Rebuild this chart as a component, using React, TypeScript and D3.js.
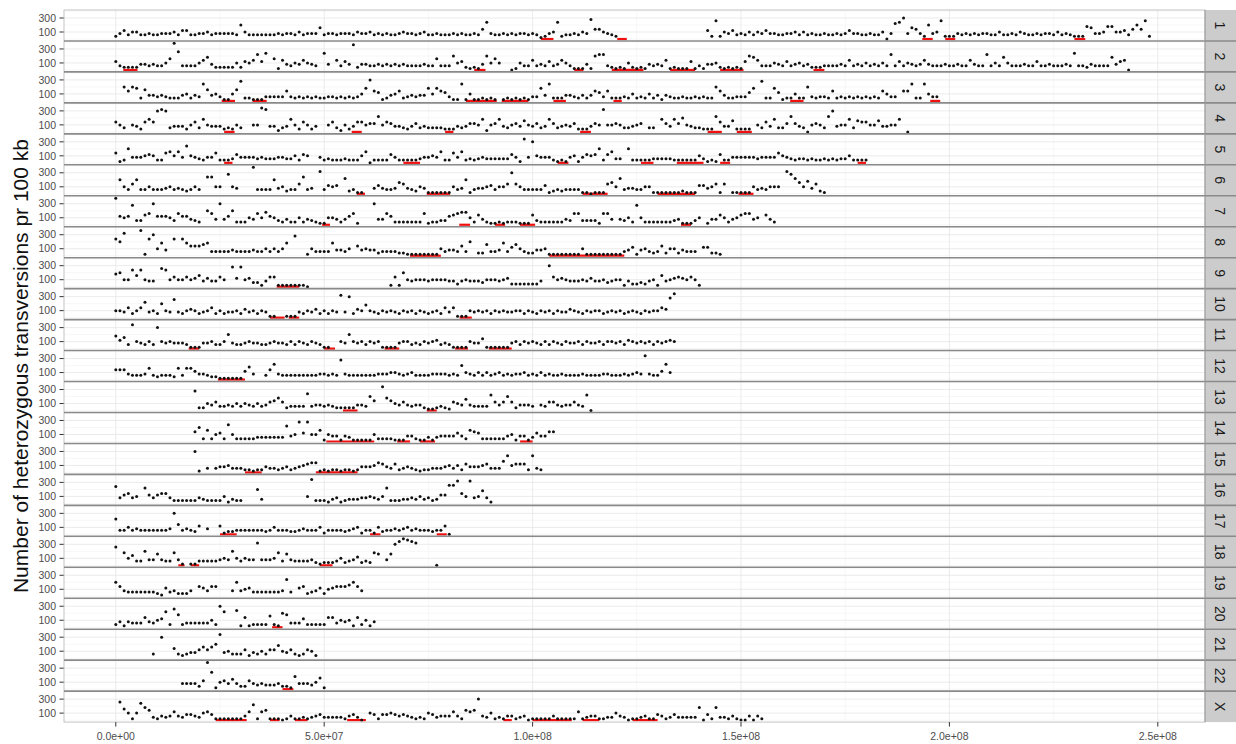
import React from "react";
import * as d3 from "d3";

// Chromosome facets, top to bottom
const chromosomes = [
  "1", "2", "3", "4", "5", "6", "7", "8", "9", "10", "11", "12",
  "13", "14", "15", "16", "17", "18", "19", "20", "21", "22", "X",
];

// Heterozygous transversion counts in 1 Mb windows, one character per window
// starting at 0 Mb ("." = no call). Each character is a base-20 level of 20 counts.
const het1 = "2463553343 3444536633 4453444443 a533333334 3443534448 3443444354 4534343345 4434533433 343433437c 4334343443 431245c233 4354e77543 2......... .......... ..62d25463 4353546443 3445353433 4334346443 3433504bcf 48742a45d2 2243434344 3353343543 3434435343 2229844599 55637a7d2";
const het2 = "6322224434 3358jd3333 5794222225 2657b6c.81 743547543. c4.7364i24 4334343434 3333433833 3a5621214a 585..01533 7343634753 11141abb32 1215212143 4371211161 3144521212 16a9733354 3634534222 3333437343 534353b363 5434743334 334337433b 3539533343 3633433343 c332433339 4670";
const het3 = "..a7a92844 3432224524 3c84531158 e221113333 3732323232 2332323235 9f76124572 3434495976 311c151121 21.1212121 3394c22244 3242476372 2232523252 4143223223 2322a74223 3369.e2296 122522a323 3272323232 32327533.7 7c22c533";
const het4 = "753.542797 fgf3444257 3954442325 3..55hg441 349527524. .573152477 566b576443 2463433332 2243466591 5694356485 4634963454 6222465g55 6533456.33 .96496a543 3222b74482 222.537493 36b6430565 3bf4559387 755844559. 0";
const het5 = "712a444565 2278584c54 3244722236 4444343334 4335265..4 2322232225 8022226422 2223445482 2748232343 33333641h4 f544421214 514656a268 33.a222223 3333222222 5312162244 4444344447 5432332322 3232335222 2";
const het6 = ".a537a3353 3345343235 3.cc55.e54 ...j3333a4 52337c34.g 3656.b2311 ..46433487 4325411111 1534a13445 63557f7533 3336123233 3311011178 5b34433551 1111112111 6645717.11 1115343555 .geb859472 1";
const het7 = "j656e3378f 6665386643 2.a84f46a2 2254859653 2422524321 155424681. ..f4486222 2222812233 6789952742 1121222111 7322222243 8833331884 .4352e5222 2222341113 5.14475245 78845.742";
const het8 = "cag...i1cf 594.c.c977 7893333343 3334335353 59.e..1533 3394435.74 5442333322 1111111153 44373a.228 3349368532 2445111111 1151111111 1134614532 3725524333 .66221";
const het9 = "9a55c8c544 .dc5755756 8464475.e6 e563314771 1111110... .......... ......171a 5455545555 4424544435 5545622222 224.f75654 4454644534 5514223245 1845676575 1";
const het10 = "5547357b45 3a54d43565 3457353445 364535411. .111435463 5354g4f365 9543545435 4535434537 4711154545 3545445535 4354535446 5435455345 4534543545 576eh";
const het11 = "9683h54353 f545444311 1445335a43 3454433454 4353543543 11..54a545 3545111145 5343545634 3111154471 1111145354 5435354354 4535445355 4536545453 54565";
const het12 = "7774333483 2333283886 4432211111 1694..37b4 3333333334 4343e43333 3334445543 4533334444 343a543535 3453434453 4353433433 3343333443 3343454h43 36b5";
const het13 = ".......... .........e 2254633435 3543534679 623333c344 3432222244 3a7.h97546 4344211232 1654843333 b646a62444 3.43664344 643b0";
const het14 = ".......... .........7 a282562c52 2222333333 3b45e6e558 1544143111 1152222111 4421131344 4464287622 2222451441 364477";
const het15 = ".......... .........f 1.3.344533 3221224332 3423456771 2122122124 4457643623 4321223334 5352644456 3338c56662 c32";
const het16 = "c46745.b64 6774222222 4322225132 2...a3.... ......5h22 2134123334 45435b2223 3435342366 ddg75g4594 1";
const het17 = "b335343333 3334f73432 6.4..61223 3333332353 3322343335 1333323451 3315233434 5343332336 0";
const het18 = "d.95733a44 8433941.11 33333454a5 3544g44459 3843333421 2223523462 3298.48fhj ihg....0";
const het19 = "a743333333 216342224. 76477...4a 4563333333 4c3.672346 2567778a74";
const het20 = "2414333743 56b2d92333 33352fb..c 1712222821 a933362222 2773545172 514";
const het21 = ".........3 .f..732344 6868ah4533 3624353669 546323652";
const het22 = ".......... ......4444 26jc156474 2264343334 2219444358 1";
const hetX = ".d8515c972 1323632443 2564111111 136b167111 0131121234 2222213420 .541445434 3212154233 3631767f32 5121331230 1111131111 1612331122 5320112311 4312422222 9041922131 003031";

const hetCodes = [
  het1, het2, het3, het4, het5, het6, het7, het8, het9, het10, het11, het12,
  het13, het14, het15, het16, het17, het18, het19, het20, het21, het22, hetX,
];

// Runs of homozygosity, start and end in Mb
const roh1 = [[102, 105], [120.3, 122.6], [193.5, 196], [199, 201.4], [230, 232.6]];
const roh2 = [[1.8, 5.2], [86, 88.7], [110, 112.2], [119, 126.6], [133, 139], [145, 150.6], [167.4, 170]];
const roh3 = [[25.4, 28.6], [32.8, 36.2], [84, 91.4], [92.6, 99], [105, 108], [119.4, 121.4], [161.8, 165], [195.4, 197.8]];
const roh4 = [[26, 28.5], [56.6, 59], [79, 81], [111.4, 114], [142, 145.4], [149, 152.6]];
const roh5 = [[26, 28], [69, 73], [106, 108.6], [126, 129], [134.6, 141], [145, 147.4], [178, 180]];
const roh6 = [[57.8, 59.8], [74.6, 80.2], [112, 118], [130, 139], [149.4, 153]];
const roh7 = [[49.5, 51.4], [82.4, 85], [91, 93.4], [97, 100.6], [135.6, 138]];
const roh8 = [[70.6, 78], [104, 122]];
const roh9 = [[38.6, 44]];
const roh10 = [[37, 40.5], [41.5, 44], [82.5, 85.4]];
const roh11 = [[17.5, 20], [50, 52.6], [64.5, 68], [81.4, 84.5], [89.5, 95]];
const roh12 = [[24.5, 31]];
const roh13 = [[54.5, 58], [74.6, 77]];
const roh14 = [[50.5, 62], [67.5, 70.6], [73, 76.6], [97, 100]];
const roh15 = [[31, 35], [48, 58]];
const roh16: number[][] = [];
const roh17 = [[25, 29], [61, 63.5], [77, 79.4]];
const roh18 = [[15, 16.5], [18, 20], [49, 52]];
const roh19: number[][] = [];
const roh20 = [[37.5, 40]];
const roh21: number[][] = [];
const roh22 = [[40, 42.6]];
const rohX = [[24, 31.4], [37, 39.3], [43, 46], [55.5, 60], [93, 95], [100, 109.4], [112, 116], [124, 130]];

const rohSegments = [
  roh1, roh2, roh3, roh4, roh5, roh6, roh7, roh8, roh9, roh10, roh11, roh12,
  roh13, roh14, roh15, roh16, roh17, roh18, roh19, roh20, roh21, roh22, rohX,
];

const xTicks = [0, 5e7, 1e8, 1.5e8, 2e8, 2.5e8];
const xTickLabels = ["0.0e+00", "5.0e+07", "1.0e+08", "1.5e+08", "2.0e+08", "2.5e+08"];
const yTicks = [100, 300];
const yTickLabels = ["100", "300"];
const yMinor = [0, 200, 400];
const yTitle = "Number of heterozygous transversions pr 100 kb";

const BIN = 1e6;
const STEP = 20;

function decode(codes: string) {
  const s = codes.replace(/\s+/g, "");
  const out: { pos: number; value: number }[] = [];
  for (let i = 0; i < s.length; i++) {
    const c = s[i];
    if (c === ".") continue;
    out.push({ pos: i * BIN, value: parseInt(c, 20) * STEP });
  }
  return out;
}

export default function App() {
  const W = 1236;
  const H = 744;
  const left = 64;
  const right = 1205;
  const top0 = 10;
  const panelH = 30.96;
  const bottom = top0 + panelH * chromosomes.length;
  const font = '"Liberation Sans", Arial, Helvetica, sans-serif';

  const x = d3.scaleLinear().domain([0, 2.5e8]).range([115.8, 1157.8]);
  const minorX = d3.range(2.5e7, 2.6e8, 5e7);

  return (
    <svg
      width={W}
      height={H}
      style={{ position: "absolute", left: 0, top: 0, background: "#fff", display: "block" }}
      fontFamily={font}
    >
      <rect x={0} y={0} width={W} height={H} fill="#fff" />
      {chromosomes.map((chr, k) => {
        const top = top0 + k * panelH;
        const y = d3.scaleLinear().domain([0, 300]).range([top + 29, top + 8]);
        const pts = decode(hetCodes[k]);
        return (
          <g key={chr}>
            <rect x={left} y={top} width={right - left} height={panelH} fill="#fff" />
            {minorX.map((v) => (
              <line key={"mx" + v} x1={x(v)} x2={x(v)} y1={top} y2={top + panelH} stroke="#f3f3f3" strokeWidth={0.7} />
            ))}
            {yMinor.map((v) =>
              y(v) > top && y(v) < top + panelH ? (
                <line key={"my" + v} x1={left} x2={right} y1={y(v)} y2={y(v)} stroke="#f3f3f3" strokeWidth={0.7} />
              ) : null
            )}
            {xTicks.map((v) => (
              <line key={"gx" + v} x1={x(v)} x2={x(v)} y1={top} y2={top + panelH} stroke="#e6e6e6" strokeWidth={0.8} />
            ))}
            {yTicks.map((v) => (
              <line key={"gy" + v} x1={left} x2={right} y1={y(v)} y2={y(v)} stroke="#e6e6e6" strokeWidth={0.8} />
            ))}
            {rohSegments[k].map((seg, i) => (
              <line
                key={"r" + i}
                x1={x(seg[0] * BIN)}
                x2={x(seg[1] * BIN)}
                y1={y(0)}
                y2={y(0)}
                stroke="#f01010"
                strokeWidth={2.2}
              />
            ))}
            {pts.map((p, i) => (
              <circle key={i} cx={x(p.pos)} cy={y(p.value)} r={1.5} fill="#111" />
            ))}
            {yTicks.map((v, i) => (
              <g key={"yt" + v}>
                <line x1={59.5} x2={left} y1={y(v)} y2={y(v)} stroke="#333" strokeWidth={1} />
                <text x={56} y={y(v)} dy="0.35em" textAnchor="end" fontSize={10.5} fill="#4d4d4d">
                  {yTickLabels[i]}
                </text>
              </g>
            ))}
            <rect x={right} y={top} width={W - right} height={panelH} fill="#cccccc" />
            <text
              x={1220}
              y={top + panelH / 2}
              textAnchor="middle"
              dy="0.35em"
              fontSize={14}
              fill="#1a1a1a"
              transform={`rotate(90, 1220, ${top + panelH / 2})`}
            >
              {chr}
            </text>
          </g>
        );
      })}
      <rect x={left} y={top0} width={right - left} height={bottom - top0} fill="none" stroke="#bdbdbd" strokeWidth={0.9} />
      {chromosomes.slice(1).map((c, i) => {
        const yy = top0 + (i + 1) * panelH;
        return <line key={"sep" + c} x1={left} x2={W} y1={yy} y2={yy} stroke="#8a8a8a" strokeWidth={1.6} />;
      })}
      <line x1={right} x2={right} y1={top0} y2={bottom} stroke="#9a9a9a" strokeWidth={1} />
      {xTicks.map((v, i) => (
        <g key={"xt" + v}>
          <line x1={x(v)} x2={x(v)} y1={bottom} y2={bottom + 4.5} stroke="#333" strokeWidth={1} />
          <text x={x(v)} y={740} textAnchor="middle" fontSize={10.5} fill="#4d4d4d">
            {xTickLabels[i]}
          </text>
        </g>
      ))}
      <text
        transform={`translate(28, ${(top0 + bottom) / 2}) rotate(-90)`}
        textAnchor="middle"
        fontSize={21}
        fill="#111"
      >
        {yTitle}
      </text>
    </svg>
  );
}
